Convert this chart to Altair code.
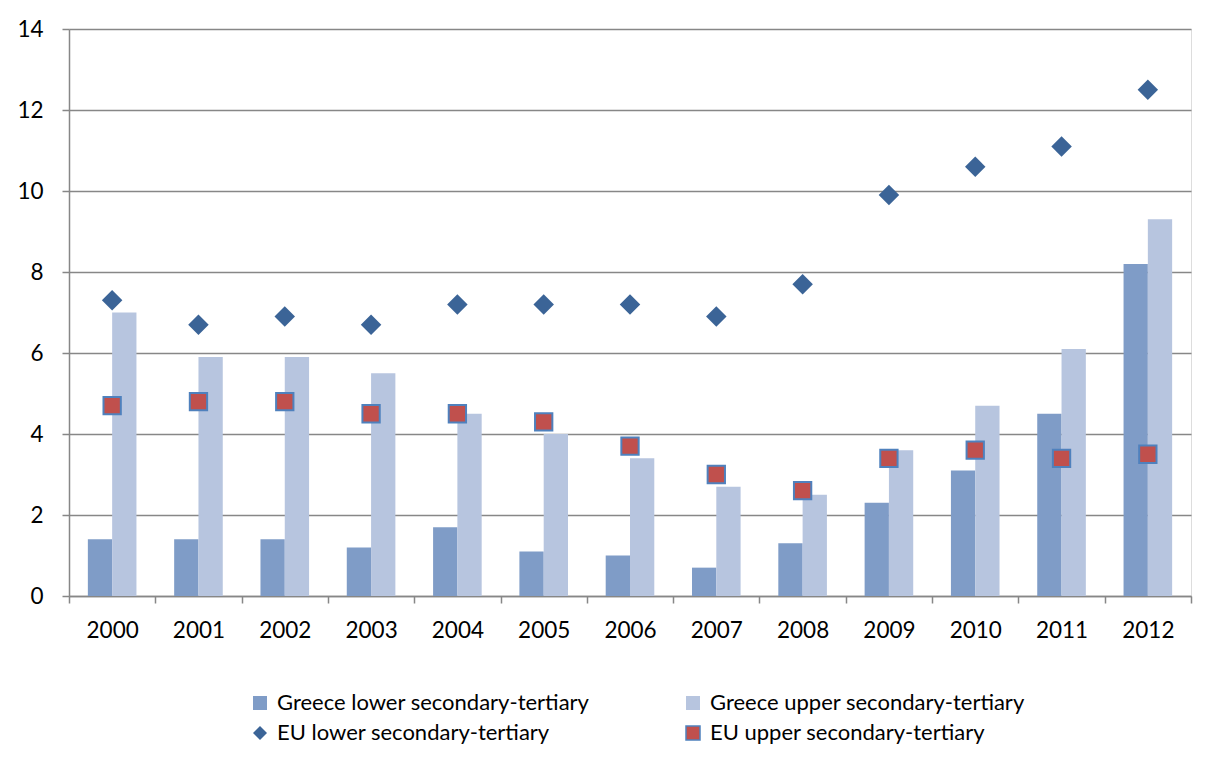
import altair as alt
import pandas as pd

years = [str(y) for y in range(2000, 2013)]
greece_lower = [1.4, 1.4, 1.4, 1.2, 1.7, 1.1, 1.0, 0.7, 1.3, 2.3, 3.1, 4.5, 8.2]
greece_upper = [7.0, 5.9, 5.9, 5.5, 4.5, 4.0, 3.4, 2.7, 2.5, 3.6, 4.7, 6.1, 9.3]
eu_lower = [7.3, 6.7, 6.9, 6.7, 7.2, 7.2, 7.2, 6.9, 7.7, 9.9, 10.6, 11.1, 12.5]
eu_upper = [4.7, 4.8, 4.8, 4.5, 4.5, 4.3, 3.7, 3.0, 2.6, 3.4, 3.6, 3.4, 3.5]

series_names = [
    "Greece lower secondary-tertiary",
    "Greece upper secondary-tertiary",
    "EU lower secondary-tertiary",
    "EU upper secondary-tertiary",
]
series_colors = ["#7f9cc7", "#b7c5df", "#3b6497", "#c0504d"]
series_shapes = ["square", "square", "diamond", "square"]

bars = pd.DataFrame(
    [{"year": y, "series": series_names[0], "value": v} for y, v in zip(years, greece_lower)]
    + [{"year": y, "series": series_names[1], "value": v} for y, v in zip(years, greece_upper)]
)
diamonds = pd.DataFrame([{"year": y, "series": series_names[2], "value": v} for y, v in zip(years, eu_lower)])
squares = pd.DataFrame([{"year": y, "series": series_names[3], "value": v} for y, v in zip(years, eu_upper)])

FONT = "Lato"
GRAY = "#878787"

x_enc = alt.X(
    "year:N",
    title=None,
    scale=alt.Scale(paddingInner=0, paddingOuter=0),
    axis=alt.Axis(
        labelAngle=0,
        labelFontSize=22.5,
        labelColor="#000000",
        labelFont=FONT,
        labelPadding=16,
        tickBand="extent",
        tickSize=7,
        tickColor=GRAY,
        tickWidth=1.5,
        domainColor=GRAY,
        domainWidth=1.5,
        grid=False,
    ),
)
y_enc = alt.Y(
    "value:Q",
    title=None,
    scale=alt.Scale(domain=[0, 14], nice=False),
    axis=alt.Axis(
        values=[0, 2, 4, 6, 8, 10, 12, 14],
        labelFontSize=22.5,
        labelColor="#000000",
        labelFont=FONT,
        labelPadding=19,
        tickSize=7,
        tickColor=GRAY,
        tickWidth=1.5,
        domainColor=GRAY,
        domainWidth=1.5,
        grid=True,
        gridColor=GRAY,
        gridWidth=1.3,
    ),
)
color_enc = alt.Color(
    "series:N",
    title=None,
    scale=alt.Scale(domain=series_names, range=series_colors),
    legend=alt.Legend(
        orient="none",
        direction="horizontal",
        legendX=180,
        legendY=663,
        columns=2,
        columnPadding=92,
        rowPadding=8,
        labelFontSize=22,
        labelFont=FONT,
        labelColor="#000000",
        labelLimit=600,
        symbolSize=196,
        symbolStrokeWidth=1.5,
        symbolStrokeColor=alt.ExprRef("datum.value === 'EU upper secondary-tertiary' ? '#4f81bd' : 'transparent'"),
        symbolOffset=0,
        labelOffset=6,
        padding=0,
    ),
)
shape_enc = alt.Shape(
    "series:N",
    title=None,
    scale=alt.Scale(domain=series_names, range=series_shapes),
)

bar_layer = alt.Chart(bars).mark_bar().encode(
    x=x_enc,
    xOffset=alt.XOffset(
        "series:N",
        scale=alt.Scale(domain=series_names[:2], paddingInner=0, paddingOuter=0.776),
    ),
    y=y_enc,
    color=color_enc,
)

diamond_layer = alt.Chart(diamonds).mark_point(filled=True, size=420, opacity=1).encode(
    x=x_enc, y=y_enc, color=color_enc, shape=shape_enc
)

square_layer = alt.Chart(squares).mark_point(
    filled=True, size=300, opacity=1, stroke="#4f81bd", strokeWidth=2
).encode(x=x_enc, y=y_enc, color=color_enc, shape=shape_enc)

chart = (
    alt.layer(bar_layer, diamond_layer, square_layer)
    .properties(
        width=1122,
        height=567,
        autosize=alt.AutoSizeParams(type="none"),
        padding={"left": 61, "top": 21, "right": 20, "bottom": 155},
    )
    .configure_view(stroke=None)
    .configure(font=FONT)
)

chart.save("out.html", embed_options={"renderer": "svg", "actions": False})
